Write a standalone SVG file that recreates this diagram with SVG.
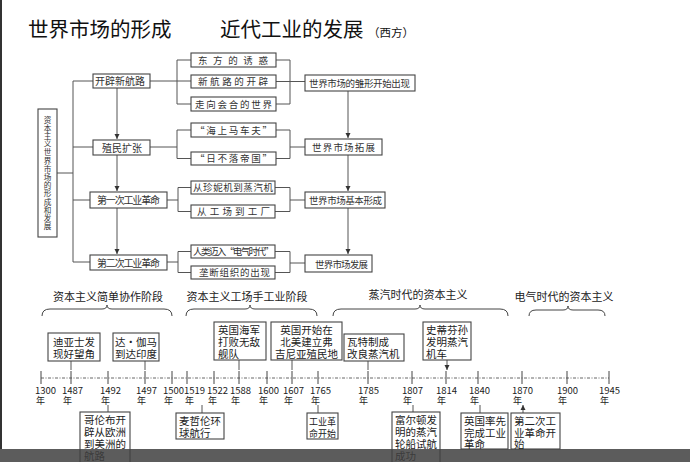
<svg xmlns="http://www.w3.org/2000/svg" width="690" height="462" viewBox="0 0 690 462">
<style>
text{font-family:"Noto Sans CJK SC","Liberation Sans",sans-serif;fill:#222}
.title{font-size:20.5px;fill:#111}
.box{fill:#fff;stroke:#444;stroke-width:1.1}
.t1{font-size:10px;fill:#333}
.t2{font-size:9.5px;fill:#333}
.ln{fill:none;stroke:#555;stroke-width:1}
.ev{font-size:10.5px;fill:#222}
.yr{font-family:"Liberation Serif",serif;font-size:9.5px;fill:#222}
.nian{font-size:9px;fill:#222}
.stage{font-size:11px;fill:#222}
.brace{fill:none;stroke:#444;stroke-width:1}
</style>
<defs>
<marker id="ah" markerWidth="6" markerHeight="6" refX="5" refY="3" orient="auto" markerUnits="userSpaceOnUse">
<path d="M0,0.5 L5,3 L0,5.5 Z" fill="#333"/>
</marker>
</defs>
<rect x="0" y="0" width="690" height="462" fill="#fff"/>
<rect x="0" y="0" width="2" height="449" fill="#333"/>

<g id="titles">
<text class="title" x="28" y="37">世界市场的形成</text>
<text class="title" x="220" y="37">近代工业的发展</text>
<text x="368" y="37" style="font-size:11.5px;fill:#111">（西方）</text>
</g>

<g id="connectors">
<path class="ln" d="M57,173 H73 M73,81 V262 M73,81 H93 M73,147 H93 M73,200 H90 M73,262 H90"/>
<path class="ln" d="M117,88 V139" marker-end="url(#ah)"/>
<path class="ln" d="M117,155 V191" marker-end="url(#ah)"/>
<path class="ln" d="M117,208 V254" marker-end="url(#ah)"/>
<path class="ln" d="M150,81 H191 M177,60 V104 M177,60 H191 M177,104 H191 M276,60 H290 M276,104 H290 M290,60 V104 M276,81.5 H305"/>
<path class="ln" d="M150,147 H177 M177,130 V158.5 M177,130 H191 M177,158.5 H191 M276,130 H290 M276,158.5 H290 M290,130 V158.5 M290,147 H305"/>
<path class="ln" d="M167,200 H178 M178,187.5 V211.5 M178,187.5 H191 M178,211.5 H191 M275,187.5 H290 M275,211.5 H290 M290,187.5 V211.5 M290,200 H305"/>
<path class="ln" d="M167,262 H178 M178,251.5 V272.5 M178,251.5 H191 M178,272.5 H191 M275,251.5 H290 M275,272.5 H290 M290,251.5 V272.5 M290,263 H305"/>
<path class="ln" d="M348,91 V138" marker-end="url(#ah)"/>
<path class="ln" d="M348,155 V191" marker-end="url(#ah)"/>
<path class="ln" d="M348,208 V254" marker-end="url(#ah)"/>
</g>

<g id="root">
<rect class="box" x="38" y="109" width="19" height="128"/>
<text x="47.5" y="116" style="writing-mode:vertical-rl;font-size:7.6px;letter-spacing:0.6px;fill:#333">资本主义世界市场的形成和发展</text>
</g>

<g id="n-kaipi"><rect class="box" x="93" y="74" width="57" height="14"/><text class="t1" x="95" y="85" textLength="50" lengthAdjust="spacing">开辟新航路</text></g>
<g id="n-zhimin"><rect class="box" x="93" y="140" width="57" height="15"/><text class="t1" x="102" y="151.5" textLength="40" lengthAdjust="spacing">殖民扩张</text></g>
<g id="n-gm1"><rect class="box" x="90" y="192" width="77" height="16"/><text class="t1" x="97" y="204" textLength="63" lengthAdjust="spacing">第一次工业革命</text></g>
<g id="n-gm2"><rect class="box" x="90" y="255" width="77" height="15"/><text class="t1" x="97" y="266.5" textLength="63" lengthAdjust="spacing">第二次工业革命</text></g>

<g id="n-dongfang"><rect class="box" x="191" y="53" width="85" height="14"/><text class="t2" x="198" y="63.5" textLength="70" lengthAdjust="spacing">东方的诱惑</text></g>
<g id="n-xinhanglu"><rect class="box" x="191" y="75" width="85" height="13"/><text class="t2" x="198" y="85" textLength="70" lengthAdjust="spacing">新航路的开辟</text></g>
<g id="n-zouxiang"><rect class="box" x="191" y="97" width="85" height="14"/><text class="t2" x="195" y="107.5" textLength="77" lengthAdjust="spacing">走向会合的世界</text></g>
<g id="n-haishang"><rect class="box" x="191" y="123" width="85" height="14"/><text class="t2" x="195" y="133.5" textLength="77" lengthAdjust="spacing">“海上马车夫”</text></g>
<g id="n-ribuluo"><rect class="box" x="191" y="152" width="85" height="13"/><text class="t2" x="195" y="162" textLength="77" lengthAdjust="spacing">“日不落帝国”</text></g>
<g id="n-zhenni"><rect class="box" x="191" y="181" width="84" height="13"/><text class="t2" x="193" y="191" textLength="80" lengthAdjust="spacing">从珍妮机到蒸汽机</text></g>
<g id="n-gongchang"><rect class="box" x="191" y="205" width="84" height="13"/><text class="t2" x="197" y="215" textLength="73" lengthAdjust="spacing">从工场到工厂</text></g>
<g id="n-dianqi"><rect class="box" x="191" y="245" width="84" height="13"/><text class="t2" x="193" y="255" textLength="81" lengthAdjust="spacing">人类迈入“电气时代”</text></g>
<g id="n-longduan"><rect class="box" x="191" y="266" width="84" height="13"/><text class="t2" x="199" y="276" textLength="71" lengthAdjust="spacing">垄断组织的出现</text></g>

<g id="n-chuxing"><rect class="box" x="305" y="75" width="110" height="16"/><text class="t2" x="309" y="87" textLength="101" lengthAdjust="spacing">世界市场的雏形开始出现</text></g>
<g id="n-tuozhan"><rect class="box" x="305" y="139" width="77" height="16"/><text class="t2" x="312" y="151" textLength="63" lengthAdjust="spacing">世界市场拓展</text></g>
<g id="n-jiben"><rect class="box" x="305" y="192" width="80" height="16"/><text class="t2" x="309" y="204" textLength="73" lengthAdjust="spacing">世界市场基本形成</text></g>
<g id="n-fazhan"><rect class="box" x="305" y="255" width="67" height="17"/><text class="t2" x="315" y="267.5" textLength="53" lengthAdjust="spacing">世界市场发展</text></g>

<g id="stages">
<text class="stage" x="108" y="301" text-anchor="middle">资本主义简单协作阶段</text>
<text class="stage" x="247" y="301" text-anchor="middle">资本主义工场手工业阶段</text>
<text class="stage" x="418" y="299" text-anchor="middle">蒸汽时代的资本主义</text>
<text class="stage" x="564" y="301" text-anchor="middle">电气时代的资本主义</text>
<path class="brace" d="M42,316 Q42,309 50,309 L102,309 Q107,309 107,305 Q107,309 112,309 L164,309 Q172,309 172,316"/>
<path class="brace" d="M186,316 Q186,309 194,309 L245,309 Q250,309 250,305 Q250,309 255,309 L309,309 Q317,309 317,316"/>
<path class="brace" d="M333,316 Q333,309 341,309 L415,309 Q420,309 420,305 Q420,309 425,309 L500,309 Q508,309 508,316"/>
<path class="brace" d="M529,316 Q529,310 536,310 L563,310 Q568,310 568,306 Q568,310 573,310 L598,310 Q605,310 605,316"/>
</g>

<g id="timeline">
<path d="M41,378 H609" stroke="#666" stroke-width="1" stroke-dasharray="3,1.5,1,1.5" fill="none"/>
<path d="M41,371V384 M71,371V384 M108,371V384 M145,371V384 M172,371V384 M187,371V384 M214,371V384 M239,371V384 M267,371V384 M292,371V384 M318,371V384 M368,371V384 M412,371V384 M446,371V384 M478,371V384 M522,371V384 M567,371V384 M609,371V384" stroke="#444" stroke-width="1" fill="none"/>
<g class="yr">
<text x="35" y="394">1300</text><text x="62" y="394">1487</text><text x="100" y="394">1492</text><text x="136" y="394">1497</text><text x="163" y="394">1500</text><text x="184" y="394">1519</text><text x="207" y="394">1522</text><text x="230" y="394">1588</text><text x="258" y="394">1600</text><text x="283" y="394">1607</text><text x="310" y="394">1765</text><text x="358" y="394">1785</text><text x="402" y="394">1807</text><text x="436" y="394">1814</text><text x="469" y="394">1840</text><text x="512" y="394">1870</text><text x="557" y="394">1900</text><text x="599" y="394">1945</text>
</g>
<g class="nian">
<text x="36" y="404">年</text><text x="63" y="404">年</text><text x="101" y="404">年</text><text x="137" y="404">年</text><text x="164" y="404">年</text><text x="185" y="404">年</text><text x="208" y="404">年</text><text x="231" y="404">年</text><text x="259" y="404">年</text><text x="284" y="404">年</text><text x="311" y="404">年</text><text x="359" y="404">年</text><text x="403" y="404">年</text><text x="437" y="404">年</text><text x="470" y="404">年</text><text x="513" y="404">年</text><text x="558" y="404">年</text><text x="600" y="404">年</text>
</g>
<path class="ln" d="M71,361 V370 M145,361 V370 M239,360 V370 M292,360 V370 M368,361 V370 M447,360 V370" marker-end="url(#ah)"/>
<path class="ln" d="M108,412 V405 M202,413 V405 M318,413 V405 M413,412 V405 M480,413 V405 M523,413 V405" marker-end="url(#ah)"/>
</g>

<g id="ev-diyashi"><rect class="box" x="48" y="333" width="52" height="28"/><text class="ev" x="74" y="345.5" text-anchor="middle">迪亚士发</text><text class="ev" x="74" y="357.5" text-anchor="middle">现好望角</text></g>
<g id="ev-dagama"><rect class="box" x="113" y="333" width="46" height="28"/><text class="ev" x="136" y="345.5" text-anchor="middle">达·伽马</text><text class="ev" x="136" y="357.5" text-anchor="middle">到达印度</text></g>
<g id="ev-haijun"><rect class="box" x="214" y="322" width="52" height="38"/><text class="ev" x="218" y="334">英国海军</text><text class="ev" x="218" y="346">打败无敌</text><text class="ev" x="218" y="358">舰队</text></g>
<g id="ev-fujiniya"><rect class="box" x="271" y="322" width="71" height="38"/><text class="ev" x="306.5" y="334" text-anchor="middle">英国开始在</text><text class="ev" x="306.5" y="346" text-anchor="middle">北美建立弗</text><text class="ev" x="306.5" y="358" text-anchor="middle">吉尼亚殖民地</text></g>
<g id="ev-wate"><rect class="box" x="344" y="334" width="60" height="27"/><text class="ev" x="347" y="346">瓦特制成</text><text class="ev" x="347" y="358">改良蒸汽机</text></g>
<g id="ev-stephenson"><rect class="box" x="423" y="322" width="48" height="38"/><text class="ev" x="426" y="334">史蒂芬孙</text><text class="ev" x="426" y="346">发明蒸汽</text><text class="ev" x="426" y="358">机车</text></g>

<g id="ev-gelunbu"><rect class="box" x="80" y="412" width="50" height="52"/><text class="ev" x="84" y="424">哥伦布开</text><text class="ev" x="84" y="436">辟从欧洲</text><text class="ev" x="84" y="448">到美洲的</text><text class="ev" x="84" y="460">航路</text></g>
<g id="ev-maizhelun"><rect class="box" x="176" y="413" width="48" height="26"/><text class="ev" x="179" y="425">麦哲伦环</text><text class="ev" x="179" y="437">球航行</text></g>
<g id="ev-gongye"><rect class="box" x="307" y="413" width="31" height="26"/><text class="ev" x="309" y="425" style="font-size:9px" textLength="27" lengthAdjust="spacing">工业革</text><text class="ev" x="309" y="437" style="font-size:9px" textLength="27" lengthAdjust="spacing">命开始</text></g>
<g id="ev-fuerdun"><rect class="box" x="392" y="412" width="48" height="52"/><text class="ev" x="395" y="424">富尔顿发</text><text class="ev" x="395" y="436">明的蒸汽</text><text class="ev" x="395" y="448">轮船试航</text><text class="ev" x="395" y="460">成功</text></g>
<g id="ev-yingguo"><rect class="box" x="461" y="413" width="47" height="36"/><text class="ev" x="464" y="425">英国率先</text><text class="ev" x="464" y="436.5">完成工业</text><text class="ev" x="464" y="448">革命</text></g>
<g id="ev-dierci"><rect class="box" x="511" y="413" width="49" height="36"/><text class="ev" x="514" y="425">第二次工</text><text class="ev" x="514" y="436.5">业革命开</text><text class="ev" x="514" y="448">始</text></g>

<rect x="0" y="449" width="690" height="13" fill="#404040" fill-opacity="0.85"/>
</svg>
